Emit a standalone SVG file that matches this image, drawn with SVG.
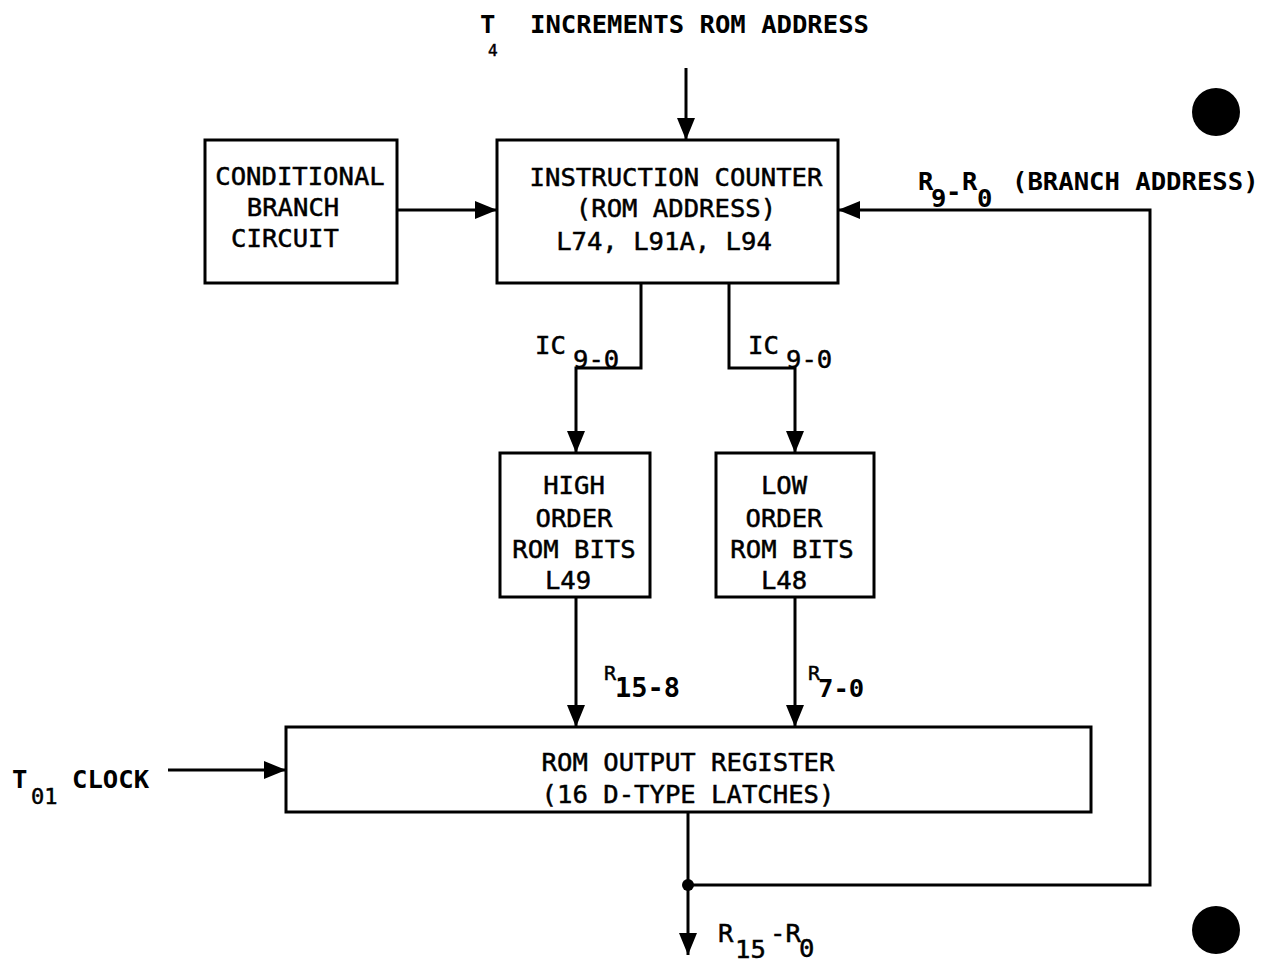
<svg xmlns="http://www.w3.org/2000/svg" width="1271" height="965" viewBox="0 0 1271 965">
<defs>
<style>
text{font-family:"DejaVu Sans Mono","Liberation Mono",monospace;font-size:25.6px;fill:#000;stroke:#000;stroke-width:0.5}
.c{text-anchor:middle}
.b{font-weight:bold;stroke-width:0}
.s{font-size:20px}
.box{fill:#fff;stroke:#000;stroke-width:3}
.ln{fill:none;stroke:#000;stroke-width:3}
</style>
<marker id="ah" markerUnits="userSpaceOnUse" markerWidth="22" markerHeight="18" refX="22" refY="9" orient="auto">
<path d="M0,0 L22,9 L0,18 z" fill="#000"/>
</marker>
</defs>
<rect width="1271" height="965" fill="#fff"/>

<g id="connectors">
<path class="ln" d="M686,68 V140" marker-end="url(#ah)"/>
<path class="ln" d="M397,210 H497" marker-end="url(#ah)"/>
<path class="ln" d="M688,885 H1150 V210 H838" marker-end="url(#ah)"/>
<path class="ln" d="M641,283 V368 H576 V453" marker-end="url(#ah)"/>
<path class="ln" d="M729,283 V368 H795 V453" marker-end="url(#ah)"/>
<path class="ln" d="M576,597 V727" marker-end="url(#ah)"/>
<path class="ln" d="M795,597 V727" marker-end="url(#ah)"/>
<path class="ln" d="M168,770 H286" marker-end="url(#ah)"/>
<path class="ln" d="M688,812 V955" marker-end="url(#ah)"/>
<circle cx="688" cy="885" r="6" fill="#000"/>
</g>

<g id="top-label">
<text class="b" x="480" y="33">T</text>
<text x="488" y="56" style="font-size:16px">4</text>
<text class="b" x="530" y="33">INCREMENTS ROM ADDRESS</text>
</g>

<g id="conditional-branch">
<rect class="box" x="205" y="140" width="192" height="143"/>
<text class="c" x="300" y="185">CONDITIONAL</text>
<text class="c" x="293" y="216">BRANCH</text>
<text class="c" x="285" y="247">CIRCUIT</text>
</g>

<g id="instruction-counter">
<rect class="box" x="497" y="140" width="341" height="143"/>
<text class="c" x="676" y="186">INSTRUCTION COUNTER</text>
<text class="c" x="676" y="217">(ROM ADDRESS)</text>
<text class="c" x="664" y="250">L74, L91A, L94</text>
</g>

<g id="branch-label">
<text class="b" x="918" y="190">R</text>
<text class="b" x="931" y="207">9</text>
<text class="b" x="946" y="200">-</text>
<text class="b" x="962" y="190">R</text>
<text class="b" x="977" y="207">0</text>
<text class="b" x="1012" y="190">(BRANCH ADDRESS)</text>
</g>

<g id="ic-labels">
<text x="535" y="354">IC</text>
<text x="573" y="368">9-0</text>
<text x="748" y="354">IC</text>
<text x="786" y="368">9-0</text>
</g>

<g id="high-order">
<rect class="box" x="500" y="453" width="150" height="144"/>
<text class="c" x="574" y="494">HIGH</text>
<text class="c" x="574" y="527">ORDER</text>
<text class="c" x="574" y="558">ROM BITS</text>
<text class="c" x="568" y="589">L49</text>
</g>

<g id="low-order">
<rect class="box" x="716" y="453" width="158" height="144"/>
<text class="c" x="784" y="494">LOW</text>
<text class="c" x="784" y="527">ORDER</text>
<text class="c" x="792" y="558">ROM BITS</text>
<text class="c" x="784" y="589">L48</text>
</g>

<g id="r-labels">
<text class="s" x="604" y="680">R</text>
<text class="b" x="615" y="697" style="font-size:27px">15-8</text>
<text class="s" x="808" y="680">R</text>
<text class="b" x="818" y="697">7-0</text>
</g>

<g id="rom-output-register">
<rect class="box" x="286" y="727" width="805" height="85"/>
<text class="c" x="688" y="771">ROM OUTPUT REGISTER</text>
<text class="c" x="688" y="803">(16 D-TYPE LATCHES)</text>
</g>

<g id="clock-label">
<text class="b" x="12" y="788">T</text>
<text x="31" y="804" style="font-size:22px">01</text>
<text class="b" x="72" y="788">CLOCK</text>
</g>

<g id="output-label">
<text x="718" y="942">R</text>
<text x="735" y="958">15</text>
<text x="770" y="942">-R</text>
<text x="799" y="957">0</text>
</g>

<g id="punch-holes">
<circle cx="1216" cy="112" r="24" fill="#000"/>
<circle cx="1216" cy="930" r="24" fill="#000"/>
</g>
</svg>
